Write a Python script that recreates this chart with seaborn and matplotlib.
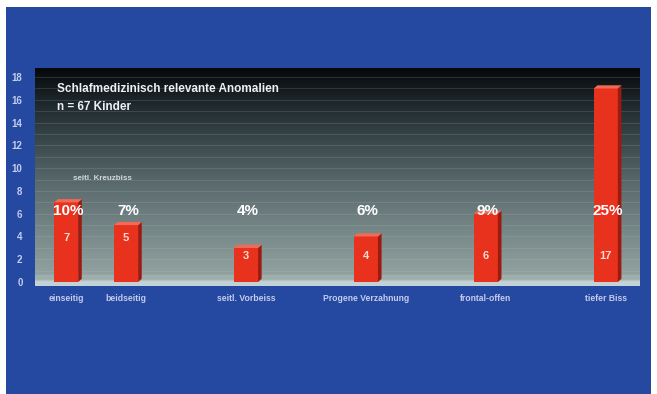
import numpy as np
import pandas as pd
import matplotlib
matplotlib.use("Agg")
import matplotlib.pyplot as plt
from matplotlib.patches import Polygon, Rectangle
from matplotlib.colors import LinearSegmentedColormap
import seaborn as sns

# --- data -------------------------------------------------------------
categories = ["einseitig", "beidseitig", "seitl. Vorbeiss",
              "Progene Verzahnung", "frontal-offen", "tiefer Biss"]
counts = [7, 5, 3, 4, 6, 17]
percents = ["10%", "7%", "4%", "6%", "9%", "25%"]
groups = ["seitl. Kreuzbiss", "seitl. Kreuzbiss", "", "", "", ""]
yticks = [0, 2, 4, 6, 8, 10, 12, 14, 16, 18]
title = "Schlafmedizinisch relevante Anomalien"
subtitle = "n = 67 Kinder"

df = pd.DataFrame({"Kategorie": categories, "Anzahl": counts,
                   "Prozent": percents, "Gruppe": groups})

# slot order: grouped bars sit side by side, the others get a spacer slot
order = []
for i, cat in enumerate(categories):
    if i > 0 and not (groups[i] and groups[i] == groups[i - 1]):
        order.append(" " * len(order))
    order.append(cat)

BLUE = "#2548a0"
RED = "#e8321e"
RED_SIDE = "#9c1a10"
RED_TOP = "#f26a55"
TICK = "#c4cdee"

sns.set_theme(style="white")
plt.rcParams["font.family"] = ["Liberation Sans", "DejaVu Sans"]

fig = plt.figure(figsize=(6.57, 3.94), dpi=100)
fig.patch.set_facecolor("white")
fig.add_artist(Rectangle((6 / 657, 0), (651 - 6) / 657, (394 - 7) / 394,
                         transform=fig.transFigure, facecolor=BLUE,
                         edgecolor="none", zorder=-10))

ax = fig.add_axes([35 / 657, 1 - 286 / 394, 605 / 657, 218 / 394])
ax.set_facecolor("none")

sns.barplot(data=df, x="Kategorie", y="Anzahl", order=order, width=0.4,
            color=RED, saturation=1, ax=ax, zorder=4, edgecolor="none")
bars = [p for p in ax.patches if isinstance(p, Rectangle)]

xlim = (-0.52, 9.57)
ylim = (-0.35, 18.8)
ax.set_xlim(*xlim)
ax.set_ylim(*ylim)

# dark-to-grey backdrop of the chart panel
cmap = LinearSegmentedColormap.from_list(
    "panel", [(0.0, "#98a9a6"), (0.45, "#5d6d70"), (0.8, "#243034"), (1.0, "#06090b")])
grad = np.linspace(0, 1, 256).reshape(-1, 1)
ax.imshow(grad, cmap=cmap, origin="lower", aspect="auto",
          extent=[xlim[0], xlim[1], ylim[0], ylim[1]], zorder=0)
for yv in np.arange(1, 18.5, 1):
    ax.axhline(yv, color="#b8c8c8", lw=0.6, alpha=0.2, zorder=1)

# floor strip
ax.axhspan(ylim[0], 0.15, color="#c3d2d4", zorder=2)
ax.axhspan(0.15, 0.6, color="#a7b8b8", alpha=0.5, zorder=2)

# 3D side and top faces derived from each drawn bar
dx, dy = 0.06, 0.28
for p in bars:
    x0, y0 = p.get_x(), p.get_y()
    w, h = p.get_width(), p.get_height()
    if not np.isfinite(h) or h <= 0:
        continue
    x1 = x0 + w
    ax.add_patch(Polygon([(x1, y0), (x1 + dx, y0 + dy), (x1 + dx, h + dy), (x1, h)],
                         closed=True, facecolor=RED_SIDE, edgecolor="none", zorder=4))
    ax.add_patch(Polygon([(x0, h), (x0 + dx, h + dy), (x1 + dx, h + dy), (x1, h)],
                         closed=True, facecolor=RED_TOP, edgecolor="none", zorder=4))

# labels on and above the bars
for cat, n, pct, grp in zip(categories, counts, percents, groups):
    xi = order.index(cat)
    ax.text(xi + 0.03, 6.2, pct, ha="center", va="center", color="white",
            fontsize=11, fontweight="bold", zorder=6)
    ax.text(xi, 3.9 if grp else 2.3, str(n), ha="center", va="center",
            color="#fbd9d0", fontsize=8, fontweight="bold", zorder=6)

for grp in sorted(set(g for g in groups if g)):
    slots = [order.index(c) for c, g in zip(categories, groups) if g == grp]
    ax.text(np.mean(slots) + 0.1, 9.1, grp, ha="center", va="center",
            color="#d0dadc", fontsize=5.8, fontweight="bold", zorder=6)

ax.text(0.036, 0.905, title, transform=ax.transAxes, color="#eef0f2",
        fontsize=8.5, fontweight="bold", va="center", ha="left", zorder=6)
ax.text(0.036, 0.822, subtitle, transform=ax.transAxes, color="#eef0f2",
        fontsize=8.5, fontweight="bold", va="center", ha="left", zorder=6)

# axes styling
ax.set_yticks(yticks)
ax.set_yticklabels([str(t) for t in yticks])
ax.tick_params(axis="y", colors=TICK, labelsize=7, length=0, pad=9)
for lab in ax.get_yticklabels():
    lab.set_fontweight("bold")
ax.set_xticks(range(len(order)))
ax.set_xticklabels([o if o.strip() else "" for o in order])
ax.tick_params(axis="x", colors=TICK, labelsize=6.2, length=0, pad=6)
for lab in ax.get_xticklabels():
    lab.set_fontweight("bold")
ax.set_xlabel("")
ax.set_ylabel("")
for s in ax.spines.values():
    s.set_visible(False)

fig.savefig("out.png", dpi=100, facecolor=fig.get_facecolor())
